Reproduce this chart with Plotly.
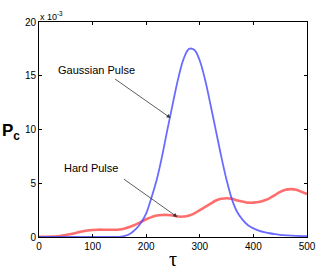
import plotly.graph_objects as go

tau = [0, 10, 20, 30, 40, 50, 60, 70, 80, 90, 100, 110, 120, 130, 140, 150, 160, 170, 180, 190,
       200, 210, 220, 230, 240, 250, 260, 270, 280, 290, 300, 310, 320, 330, 340, 350, 360, 370,
       380, 390, 400, 410, 420, 430, 440, 450, 460, 470, 480, 490, 500]

gauss = [0, 0, 0, 0, 0, 0, 0, 0, 0, 0, 0, 0, 0, 0, 0, 0.02, 0.1, 0.3, 0.7, 1.3,
         2.2, 3.7, 5.4, 7.6, 10.1, 12.5, 14.8, 16.6, 17.5, 17.4, 16.4, 14.6, 12.3, 9.9, 7.5, 5.3, 3.5, 2.3,
         1.6, 1.1, 0.8, 0.6, 0.45, 0.35, 0.27, 0.2, 0.16, 0.13, 0.1, 0.08, 0.07]

hard = [0.02, 0.02, 0.03, 0.05, 0.1, 0.18, 0.28, 0.4, 0.52, 0.6, 0.65, 0.68, 0.68, 0.67, 0.67, 0.7, 0.8, 0.95, 1.15, 1.4,
        1.65, 1.85, 2.0, 2.05, 2.05, 2.0, 1.9, 1.9, 2.0, 2.2, 2.5, 2.8, 3.1, 3.4, 3.55, 3.6, 3.55, 3.4,
        3.3, 3.2, 3.2, 3.25, 3.4, 3.6, 3.9, 4.2, 4.4, 4.45, 4.4, 4.2, 4.0]

x_ticks = [0, 100, 200, 300, 400, 500]
y_ticks = [0, 5, 10, 15, 20]

font = "Liberation Sans, Arial, sans-serif"

fig = go.Figure()
fig.add_trace(go.Scatter(x=tau, y=hard, mode="lines", line=dict(color="rgba(255,60,60,0.75)", width=2.6, shape="spline"),
                         showlegend=False))
fig.add_trace(go.Scatter(x=tau, y=gauss, mode="lines", line=dict(color="rgba(70,70,255,0.8)", width=1.8, shape="spline"),
                         showlegend=False))

fig.add_annotation(x=108, y=15.5, xref="x", yref="y", text="Gaussian Pulse", showarrow=False,
                   font=dict(family=font, size=11, color="black"))
fig.add_annotation(x=96.5, y=6.4, xref="x", yref="y", text="Hard Pulse", showarrow=False,
                   font=dict(family=font, size=11, color="black"))
fig.add_annotation(x=245.5, y=11.07, xref="x", yref="y", text="", showarrow=True, ax=-57, ay=-40,
                   arrowhead=2, arrowsize=1, arrowwidth=0.8, arrowcolor="#333333")
fig.add_annotation(x=258, y=1.86, xref="x", yref="y", text="", showarrow=True, ax=-55, ay=-39,
                   arrowhead=2, arrowsize=1, arrowwidth=0.8, arrowcolor="#333333")
fig.add_annotation(x=0, y=1, xref="paper", yref="paper", xanchor="left", yanchor="bottom",
                   text="x 10<sup>-3</sup>", showarrow=False, font=dict(family=font, size=9, color="black"),
                   xshift=-1, yshift=-2)
fig.add_annotation(x=-0.105, y=0.49, xref="paper", yref="paper", xanchor="center", yanchor="middle",
                   text="<b>P<sub>c</sub></b>", showarrow=False, font=dict(family=font, size=17, color="black"))
fig.add_annotation(x=0.5, y=-0.1, xref="paper", yref="paper", xanchor="center", yanchor="middle",
                   text="τ", showarrow=False, borderpad=0,
                   font=dict(family="Liberation Serif, Times New Roman, serif", size=20, color="black"))

axis_common = dict(showgrid=False, zeroline=False, showline=True, linecolor="black", linewidth=1,
                   mirror="ticks", ticks="inside", ticklen=3, tickcolor="black",
                   tickfont=dict(family=font, size=10, color="black"))

fig.update_xaxes(range=[0, 500], tickvals=x_ticks, **axis_common)
fig.update_yaxes(range=[0, 20], tickvals=y_ticks, **axis_common)

fig.update_layout(width=327, height=271, margin=dict(l=39, r=11, t=22, b=34),
                  plot_bgcolor="white", paper_bgcolor="white")

fig.write_html("out.html", config={"displayModeBar": False},
               post_script="document.body.style.margin='0';document.body.style.overflow='hidden';")
